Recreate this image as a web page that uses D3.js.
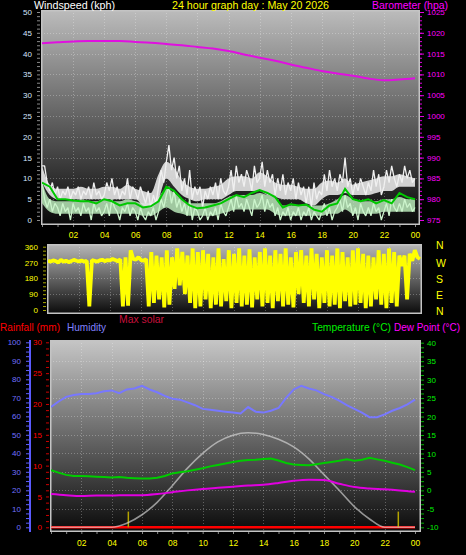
<!DOCTYPE html>
<html><head><meta charset="utf-8">
<script src="https://cdn.jsdelivr.net/npm/d3@7"></script>
<style>html,body{margin:0;padding:0;background:#000;overflow:hidden}</style>
</head><body><svg id="c" width="466" height="555"></svg>
<script>
// ---------- DATA ----------
const hourTickValues = [2,4,6,8,10,12,14,16,18,20,22,24];
const hourTickLabels = ["02","04","06","08","10","12","14","16","18","20","22","00"];

// 10-minute samples, 00:00 .. 24:00
const windGust = [
 13,13,9,7,9,6, 8,5,7,6,8,5, 7,6,8,5,7,6, 8,5,9,6,7,5, 6,9,7,10,6,8, 5,7,6,10,5,8,
 7,5,8,6,4,7, 3,6,4,8,12,9, 14,18,12,15,10,13, 7,10,6,12,5,8, 6,8,3,7,5,8, 6,9,5,10,7,6,
 8,12,7,13,9,11, 8,12,10,7,13,9, 10,14,8,12,9,11, 6,10,7,11,6,9, 7,10,5,9,6,8, 4,8,3,9,5,7,
 6,11,7,12,8,10, 7,11,9,15,8,10, 6,9,7,10,8,6, 9,7,12,8,11,6, 8,12,9,13,10,8, 11,9,13,10,12,9, 10];
const windSpeed = [
 9,5,3,5,2,4, 3,1,4,2,3,0, 4,2,3,1,4,2, 3,0,4,2,3,1, 2,4,1,5,3,2, 0,3,2,4,1,3,
 2,0,3,1,0,2, 1,3,0,2,5,3, 6,8,4,7,3,5, 2,4,1,5,0,3, 2,0,1,3,0,2, 1,3,0,4,2,1,
 3,5,2,6,3,4, 2,5,3,1,5,3, 4,6,2,5,3,4, 1,3,0,2,1,3, 0,2,1,3,0,2, 1,3,0,2,1,0,
 2,4,1,3,0,2, 3,5,2,6,3,4, 1,3,0,4,2,1, 3,1,4,2,3,0, 2,4,1,5,3,2, 4,2,5,3,4,2, 3];
// 30-minute min/max bands of the gust and speed readings
const gustBandLow  = [9,6,5,5,5,5,5,5,5,5,5,5,5,3.5,3,5,10,8,6,5,4.5,5,5,5,6,7,7,7,7,6,5.5,5,5,5,4,3.5,5,6,6,6.5,6,6,6,6.5,7,7,8,8,8];
const gustBandHigh = [13,8.5,7.5,7.5,7.5,8,7.5,7.5,8,8,7.5,8.5,7.5,7,6.5,11,14,12.5,9.5,8,7.5,7.5,8,8.5,10,10.5,10.5,10,11.5,10.5,9,8.5,8.5,8,7.5,7.5,9,9.5,9,10,8.5,9,9.5,10,10.5,10.5,11,10.5,10];
const speedBandLow  = [4,2,1.5,1.5,1.5,1.5,1.5,1.5,1.5,1.5,1.5,1.5,1.5,1,1,2,3,2,1.5,1,1,1,1,1.5,2,2.5,2.5,2.5,2.5,2.5,1.5,1,1,1,1,1,1,1.5,1.5,2.5,1.5,1.5,1.5,1.5,2,2,2,2,2];
const speedBandHigh = [9,5,4.5,4.5,4.5,5,4.5,4.5,5,4.5,4.5,5,4.5,4,4,5.5,7.5,6.5,5,4,4,4,4,4.5,5.5,6,6,6,6.5,6,5.5,3.5,3.5,3.5,3.5,3.5,3.5,4,5,6,5,4.5,4.5,4.5,5,5,5.5,5,5];
// 30-minute samples
const windAverage = [9,8,5,5,4.7,4.5,4.5,4,5,4.5,3.5,4,4,3,3.3,4.5,8,7,5,3.5,2.8,3,3.5,4,5,6,5.5,6.5,7.2,6.5,5.5,3,3.8,3.5,3.7,2.5,2,3.5,4,7.5,5,4.5,5,4,4.8,4,6.5,5.5,5];
// hourly samples
const barometer = [1017.5,1017.7,1017.9,1018,1018,1018,1017.8,1017.6,1017.3,1017,1016.6,1016.2,1015.6,1014.8,1014,1013.3,1012.4,1011.6,1010.8,1010.2,1009.7,1009,1008.6,1008.8,1009.1];

// 10-minute wind direction (degrees)
const windDir = [
 280,275,282,278,270,285, 275,280,272,278,285,280, 276,282,275,280,20,284, 280,275,282,286,278,284,
 282,290,284,278,288,20, 300,25,340,290,286,300, 284,280,290,20,330,40, 310,60,300,15,340,30,
 300,120,350,140,330,90, 310,40,350,10,330,20, 340,60,320,10,300,30, 350,20,290,50,340,10,
 320,40,350,20,310,30, 345,15,300,60,330,20, 350,40,310,10,340,50, 320,20,350,30,300,15,
 330,90,340,40,310,20, 350,60,320,10,300,40, 340,20,310,30,350,10, 330,50,300,20,340,30,
 350,40,320,10,310,20, 300,60,340,30,320,10, 350,40,330,20,310,250, 310,60,320,280,340,300, 290];

// 30-minute samples
const humidity = [65,68,70.5,71.5,72,72,72.5,73.5,74,72.5,74.5,75,76.5,74.5,73,71,69.5,69,67.5,66,64,63.5,63,62.5,62,61.5,65,62.5,62,63,64.5,70,74.5,76.5,75,74,72,70.5,68.5,66,64,62,59.5,59.5,61,63,64.5,66.5,69];
const temperature = [5.5,4.8,4.2,3.9,3.9,3.8,3.7,3.6,3.5,3.6,3.4,3.3,3.2,3.2,3.4,3.9,4.6,4.9,5.2,5.6,6,6.5,6.9,7.3,7.7,8,8.2,8.3,8.5,8.6,8.1,7.4,7,6.9,6.8,7.1,7.4,7.7,8,8.4,8,8.3,8.8,8.4,8,7.5,7,6.3,5.5];
// hourly samples
const dewPoint = [-1,-1.3,-1.5,-1.4,-1.4,-1.3,-1.3,-1,-0.5,0,0.4,0.7,1,1.3,1.5,2,2.6,2.9,2.8,1.8,0.9,0.5,0.3,0,-0.4];
const maxSolar = [0,0,0,0,0,22,68,135,225,320,400,462,498,511,502,476,435,370,285,200,112,45,0,0,0];
const rainfall = [0,0,0,0,0,0,0,0,0,0,0,0,0,0,0,0,0,0,0,0,0,0,0,0,0];
const sunMarkHours = [5.1, 22.9];
const sunMarkHeight = [8.5, 8.5];

// ---------- DRAW ----------
const FONT = "'Liberation Sans', Arial, sans-serif";
const svg = d3.select("#c");
const defs = svg.append("defs");
function grad(id, c0, c1) {
  const g = defs.append("linearGradient").attr("id", id).attr("x1",0).attr("y1",0).attr("x2",0).attr("y2",1);
  g.append("stop").attr("offset","0%").attr("stop-color",c0);
  g.append("stop").attr("offset","100%").attr("stop-color",c1);
}
grad("gTop", "#bcbcbc", "#080808");
grad("gMid", "#b8b8b8", "#0a0a0a");
grad("gBot", "#c6c6c6", "#0a0a0a");
function clip(id, x, y, w, h) {
  defs.append("clipPath").attr("id", id).append("rect").attr("x",x).attr("y",y).attr("width",w).attr("height",h);
}

function panel(x0, y0, x1, y1, gid, xs, xGrid, ys, yGrid) {
  svg.append("rect").attr("x",x0).attr("y",y0).attr("width",x1-x0).attr("height",y1-y0)
    .attr("fill",`url(#${gid})`);
  const g = svg.append("g").attr("stroke","rgba(255,255,255,0.28)").attr("stroke-dasharray","1,2").attr("stroke-width",1);
  xGrid.forEach(h => g.append("line").attr("x1",Math.round(xs(h))+0.5).attr("x2",Math.round(xs(h))+0.5).attr("y1",y0).attr("y2",y1));
  yGrid.forEach(v => g.append("line").attr("x1",x0).attr("x2",x1).attr("y1",Math.round(ys(v))+0.5).attr("y2",Math.round(ys(v))+0.5));
  svg.append("rect").attr("x",x0+0.75).attr("y",y0+0.75).attr("width",x1-x0-1.5).attr("height",y1-y0-1.5)
    .attr("fill","none").attr("stroke","#c4c4c4").attr("stroke-width",1.5);
}
function styleAxis(g, tickColor, textColor, size) {
  g.select(".domain").remove();
  g.selectAll(".tick line").attr("stroke", tickColor);
  g.selectAll("text").attr("fill", textColor).attr("font-family", FONT).attr("font-size", size || 8);
}
function text(x, y, s, color, len, size) {
  const t = svg.append("text").attr("x",x).attr("y",y).text(s).attr("fill",color)
    .attr("font-family",FONT).attr("font-size",size||11);
  if (len) t.attr("textLength", len).attr("lengthAdjust","spacingAndGlyphs");
}
const gridHours = [2,4,6,8,10,12,14,16,18,20,22];
const t10 = i => i/6, t30 = i => i/2, t60 = i => i;
const hourFmt = h => { const k = hourTickValues.indexOf(h); return k>=0 ? hourTickLabels[k] : ""; };

// ===== TOP: wind + barometer =====
const xTop = d3.scaleLinear().domain([0,24]).range([42,415]);
const yWind = d3.scaleLinear().domain([0,50]).range([220,12]);
const yBaro = d3.scaleLinear().domain([975,1025]).range([220,12]);
panel(41, 10, 420, 225, "gTop", xTop, gridHours, yWind, [5,10,15,20,25,30,35,40,45]);
clip("cTop", 42, 11, 377, 212);
const topG = svg.append("g").attr("clip-path","url(#cTop)");
topG.append("path").datum(speedBandLow)
  .attr("d", d3.area().x((d,i)=>xTop(t30(i))).y0(d=>yWind(d)).y1((d,i)=>yWind(speedBandHigh[i])).curve(d3.curveMonotoneX))
  .attr("fill","#b8e8b8").attr("opacity",0.85);
topG.append("path").datum(windSpeed)
  .attr("d", d3.line().x((d,i)=>xTop(t10(i))).y(d=>yWind(d)))
  .attr("fill","none").attr("stroke","#ccf4cc").attr("stroke-width",1.3).attr("stroke-linejoin","bevel");
topG.append("path").datum(gustBandLow)
  .attr("d", d3.area().x((d,i)=>xTop(t30(i))).y0(d=>yWind(d)).y1((d,i)=>yWind(gustBandHigh[i])).curve(d3.curveMonotoneX))
  .attr("fill","#e4e4e4").attr("opacity",0.9);
topG.append("path").datum(windGust)
  .attr("d", d3.line().x((d,i)=>xTop(t10(i))).y(d=>yWind(d)))
  .attr("fill","none").attr("stroke","#f0f0f0").attr("stroke-width",1.3).attr("stroke-linejoin","bevel");
topG.append("path").datum(windAverage)
  .attr("d", d3.line().x((d,i)=>xTop(t30(i))).y(d=>yWind(d)))
  .attr("fill","none").attr("stroke","#00c800").attr("stroke-width",2);
topG.append("path").datum(barometer)
  .attr("d", d3.line().x((d,i)=>xTop(t60(i))).y(d=>yBaro(d)).curve(d3.curveMonotoneX))
  .attr("fill","none").attr("stroke","#e010e0").attr("stroke-width",2);

styleAxis(svg.append("g").attr("transform","translate(40,0)")
  .call(d3.axisLeft(yWind).tickValues(d3.range(0,51,1)).tickSize(3).tickPadding(5)
    .tickFormat(d => d%5===0 ? d : "")), "#8a8a8a", "#d6e6ff");
styleAxis(svg.append("g").attr("transform","translate(420,0)")
  .call(d3.axisRight(yBaro).tickValues(d3.range(975,1026,1)).tickSize(2).tickFormat("")), "#e000e0", "#ff00ff");
styleAxis(svg.append("g").attr("transform","translate(420,0)")
  .call(d3.axisRight(yBaro).tickValues(d3.range(975,1026,5)).tickSize(4).tickPadding(3).tickFormat(d3.format("d"))), "#e000e0", "#ff00ff");
styleAxis(svg.append("g").attr("transform","translate(0,225)")
  .call(d3.axisBottom(xTop).tickValues(d3.range(0,25,1)).tickSize(2).tickPadding(5).tickFormat(hourFmt)),
  "#8a8a8a", "#ffff00", 8.5);

text(34, 9, "Windspeed (kph)", "#ffffff", 81);
text(172, 9, "24 hour graph day : May 20 2026", "#ffff00", 157);
text(372, 8.5, "Barometer (hpa)", "#ff00ff", 76);

// ===== MIDDLE: wind direction =====
const xMid = d3.scaleLinear().domain([0,24]).range([48,420]);
const yDir = d3.scaleLinear().domain([0,360]).range([310,246.7]);
panel(47, 244, 422, 314, "gMid", xMid, gridHours, yDir, [90,180,270]);
clip("cMid", 48, 245, 373, 68);
svg.append("g").attr("clip-path","url(#cMid)").append("path").datum(windDir)
  .attr("d", d3.line().x((d,i)=>xMid(t10(i))).y(d=>yDir(d)))
  .attr("fill","none").attr("stroke","#ffff00").attr("stroke-width",3.8).attr("stroke-linejoin","bevel");
styleAxis(svg.append("g").attr("transform","translate(46,0)")
  .call(d3.axisLeft(yDir).tickValues(d3.range(0,361,22.5)).tickSize(3).tickPadding(5)
    .tickFormat(d => d%90===0 ? d : "")), "#a8a800", "#ffff00");
const compass = ["N","W","S","E","N"], compassY = [249,267,283,299,315];
compass.forEach((c,i) => text(436, compassY[i], c, "#ffff00", null, 10.5));

// ===== BOTTOM =====
text(0, 331, "Rainfall (mm)", "#ff0000", 60);
text(67, 331, "Humidity", "#8080ff", 39);
text(119, 323, "Max solar", "#c8103c", 45);
text(312, 331, "Temperature (°C)", "#00ee00", 79);
text(394, 331, "Dew Point (°C)", "#ff00ff", 66);

const xBot = d3.scaleLinear().domain([0,24]).range([51,415]);
const yHum = d3.scaleLinear().domain([0,100]).range([527.3,342.3]);
const yRain = d3.scaleLinear().domain([0,30]).range([527.3,342.3]);
const yTemp = d3.scaleLinear().domain([-10,40]).range([527.3,342.7]);
const ySolar = d3.scaleLinear().domain([0,1000]).range([527.3,342.3]);
panel(50, 340, 421, 532, "gBot", xBot, gridHours, yHum, [10,20,30,40,50,60,70,80,90]);
clip("cBot", 51, 341, 369, 190);
const bot = svg.append("g").attr("clip-path","url(#cBot)");
bot.append("path").datum(rainfall)
  .attr("d", d3.line().x((d,i)=>xBot(t60(i))).y(d=>yRain(d)))
  .attr("fill","none").attr("stroke","#ff0000").attr("stroke-width",2.5);
bot.selectAll(".sun").data(sunMarkHours).enter().append("line")
  .attr("x1",d=>xBot(d)).attr("x2",d=>xBot(d))
  .attr("y1",yHum(0)).attr("y2",(d,i)=>yHum(sunMarkHeight[i]))
  .attr("stroke","#b4a400").attr("stroke-width",1.5);
bot.append("path").datum(maxSolar)
  .attr("d", d3.line().x((d,i)=>xBot(t60(i))).y(d=>ySolar(d)).curve(d3.curveMonotoneX))
  .attr("fill","none").attr("stroke","rgba(225,225,225,0.62)").attr("stroke-width",1.6);
bot.append("path").datum(humidity)
  .attr("d", d3.line().x((d,i)=>xBot(t30(i))).y(d=>yHum(d)))
  .attr("fill","none").attr("stroke","#7878ff").attr("stroke-width",2);
bot.append("path").datum(temperature)
  .attr("d", d3.line().x((d,i)=>xBot(t30(i))).y(d=>yTemp(d)))
  .attr("fill","none").attr("stroke","#00cc00").attr("stroke-width",2);
bot.append("path").datum(dewPoint)
  .attr("d", d3.line().x((d,i)=>xBot(t60(i))).y(d=>yTemp(d)).curve(d3.curveMonotoneX))
  .attr("fill","none").attr("stroke","#e000e0").attr("stroke-width",2);

// axes
svg.append("line").attr("x1",30).attr("x2",30).attr("y1",340).attr("y2",532).attr("stroke","#5a5aff").attr("stroke-width",2);
styleAxis(svg.append("g").attr("transform","translate(29,0)")
  .call(d3.axisLeft(yHum).tickValues(d3.range(0,101,2.5)).tickSize(3).tickPadding(5)
    .tickFormat(d => d%10===0 ? d : "")), "#6060ff", "#7070ff");
styleAxis(svg.append("g").attr("transform","translate(49,0)")
  .call(d3.axisLeft(yRain).tickValues(d3.range(0,31,1)).tickSize(3).tickPadding(4)
    .tickFormat(d => d%5===0 ? d : "")), "#cc0000", "#ff0000");
styleAxis(svg.append("g").attr("transform","translate(421,0)")
  .call(d3.axisRight(yTemp).tickValues(d3.range(-10,40.01,1.25)).tickSize(3).tickPadding(3)
    .tickFormat(d => d%5===0 ? d : "")), "#00b000", "#00ee00");
styleAxis(svg.append("g").attr("transform","translate(0,532)")
  .call(d3.axisBottom(xBot).tickValues(d3.range(0,25,1)).tickSize(2).tickPadding(6).tickFormat(hourFmt)),
  "#8a8a8a", "#ffff00", 8.5);
</script></body></html>
